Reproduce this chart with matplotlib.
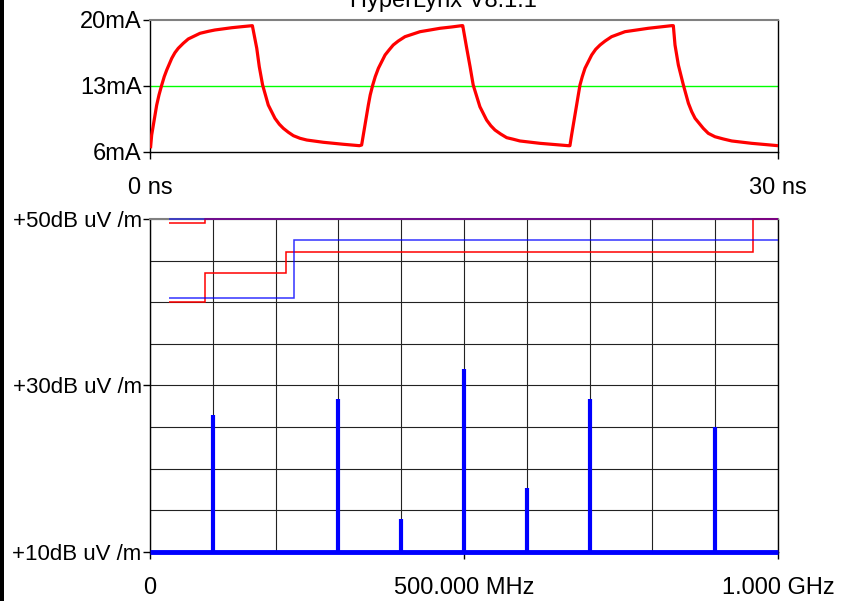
import numpy as np
import matplotlib
matplotlib.use("Agg")
import matplotlib.pyplot as plt
from matplotlib.patches import Rectangle

plt.rcParams['font.family'] = ['Liberation Sans', 'DejaVu Sans']

# driver pin current over three clock cycles (ns, mA)
t_ns = [0.03, 0.08, 0.16, 0.32, 0.43, 0.56, 0.68, 0.80, 1.04, 1.19, 1.35, 1.59, 1.83,
        2.39, 2.79, 3.10, 3.90, 4.38, 4.89,
        5.10, 5.22, 5.38, 5.65, 5.97, 6.18, 6.37, 6.61, 6.85, 7.17, 7.49, 8.28, 9.23, 10.00,
        10.11, 10.19, 10.27, 10.43, 10.52, 10.64, 10.76, 10.91, 11.23, 11.42, 11.62, 11.86,
        12.18, 12.90, 13.38, 13.85, 14.41, 14.89,
        14.94, 15.13, 15.29, 15.44, 15.76, 16.08, 16.28, 16.48, 16.75, 17.04, 17.36, 17.67,
        18.63, 19.98,
        20.06, 20.14, 20.22, 20.38, 20.46, 20.54, 20.65, 20.78, 21.10, 21.29, 21.50, 21.74,
        22.05, 22.69, 23.25, 23.80, 24.36, 24.92,
        25.00, 25.08, 25.24, 25.48, 25.72, 25.88, 26.04, 26.43, 26.67, 26.99, 27.39, 27.79,
        28.74, 30.00]
i_ma = [6.56, 7.80, 8.86, 10.98, 12.05, 13.10, 13.99, 14.70, 15.94, 16.53, 17.00, 17.53, 17.99,
        18.59, 18.80, 18.94, 19.18, 19.29, 19.40,
        17.00, 15.05, 13.10, 10.98, 9.57, 8.94, 8.51, 8.09, 7.73, 7.45, 7.27, 7.03, 6.82, 6.67,
        6.74, 7.80, 8.86, 10.98, 12.05, 13.10, 13.99, 14.88, 16.29, 16.82, 17.35, 17.77,
        18.23, 18.76, 18.94, 19.12, 19.26, 19.40,
        19.40, 17.00, 15.05, 13.10, 10.80, 9.39, 8.79, 8.33, 7.91, 7.52, 7.35, 7.17,
        6.92, 6.67,
        6.67, 7.80, 8.86, 10.98, 12.05, 13.10, 13.99, 14.88, 16.29, 16.89, 17.35, 17.77,
        18.23, 18.76, 18.94, 19.12, 19.26, 19.40,
        19.40, 17.35, 15.23, 13.10, 11.17, 10.27, 9.57, 8.51, 7.98, 7.62, 7.38, 7.17,
        6.92, 6.67]
threshold_ma = 13

# radiated spectrum: noise floor plus harmonic lines (MHz, dBuV/m)
floor_db = 10
harm_mhz = [100, 300, 400, 500, 600, 700, 900]
harm_db = [26.4, 28.4, 13.9, 32.0, 17.7, 28.3, 25.0]

# emission limits as steps (MHz edges, dBuV/m)
fcc_edges = [30, 88, 216, 960, 1000]
fcc_a_db = [49.5, 54.0, 56.9, 60.0]
fcc_b_db = [40.0, 43.5, 46.0, 54.0]
cispr_edges = [30, 230, 1000]
cispr_a_db = [50.5, 57.5]
cispr_b_db = [40.5, 47.5]

W, H = 844, 601
fig = plt.figure(figsize=(W / 100, H / 100), dpi=100)


def box(x0, y0, x1, y1):
    return [x0 / W, 1 - y1 / H, (x1 - x0) / W, (y1 - y0) / H]


fs = 17

# ---- current waveform ----
ax1 = fig.add_axes(box(150, 20, 778, 152))
ax1.plot(t_ns, i_ma, color='red', lw=2.3, solid_joinstyle='round', zorder=3)
ax1.axhline(threshold_ma, color='#00ff00', lw=1, zorder=2)
ax1.set_xlim(0, 30)
ax1.set_ylim(6, 20)
ax1.set_yticks([6, 13, 20])
ax1.set_yticklabels(['6mA', '13mA', '20mA'])
ax1.set_xticks([0, 30])
ax1.set_xticklabels(['0 ns', '30 ns'])
ax1.tick_params(axis='y', length=5, width=1, pad=1, labelsize=fs)
ax1.tick_params(axis='x', length=5, width=1, pad=13, labelsize=fs)
for s in ['left', 'right', 'bottom']:
    ax1.spines[s].set_color('black')
    ax1.spines[s].set_linewidth(1)
ax1.spines['top'].set_color('#808080')
ax1.spines['top'].set_linewidth(1.5)
ax1.yaxis.get_major_ticks()[-1].tick1line.set_color('#808080')

# ---- spectrum ----
ax2 = fig.add_axes(box(150, 219, 778, 551.7))
ax2.set_xlim(0, 1000)
ax2.set_ylim(10, 50)
ax2.set_xticks([0, 500, 1000])
ax2.set_xticklabels(['0', '500.000 MHz', '1.000 GHz'])
ax2.set_xticks(np.arange(100, 1000, 100), minor=True)
ax2.set_yticks([10, 30, 50])
ax2.set_yticklabels(['+10dB uV /m', '+30dB uV /m', '+50dB uV /m'])
ax2.set_yticks(np.arange(15, 50, 5), minor=True)
ax2.tick_params(which='minor', length=0)
ax2.tick_params(axis='y', length=5, width=1, pad=1, labelsize=16)
ax2.tick_params(axis='x', length=5, width=1, pad=13, labelsize=fs)
ax2.grid(which='both', color='#222222', lw=0.8, zorder=0)
ax2.set_axisbelow(True)
for s in ['left', 'right', 'bottom']:
    ax2.spines[s].set_color('black')
    ax2.spines[s].set_linewidth(1)
ax2.spines['top'].set_color('#808080')
ax2.spines['top'].set_linewidth(1.5)

top = 50
ax2.stairs(np.minimum(fcc_a_db, top), fcc_edges, baseline=None,
           color='red', lw=1.1, clip_on=False, zorder=3)
ax2.stairs(np.minimum(fcc_b_db, top), fcc_edges, baseline=None,
           color='red', lw=1.1, clip_on=False, zorder=3)
ax2.stairs(np.minimum(cispr_a_db, top), cispr_edges, baseline=None,
           color='blue', alpha=0.65, lw=1.1, clip_on=False, zorder=4)
ax2.stairs(np.minimum(cispr_b_db, top), cispr_edges, baseline=None,
           color='blue', alpha=0.8, lw=1.1, clip_on=False, zorder=4)

ax2.vlines(harm_mhz, floor_db, harm_db, color='blue', lw=3, zorder=5)
ax2.plot([0, 1000], [floor_db, floor_db], color='blue', lw=3.5,
         solid_capstyle='butt', clip_on=False, zorder=6)

fig.text(443 / W, 1 - 7 / H, 'HyperLynx V8.1.1', ha='center', va='baseline',
         fontsize=fs)
fig.patches.append(Rectangle((0, 0), 4 / W, 1, transform=fig.transFigure,
                             facecolor='black', edgecolor='none'))

fig.savefig('out.png', dpi=100)
